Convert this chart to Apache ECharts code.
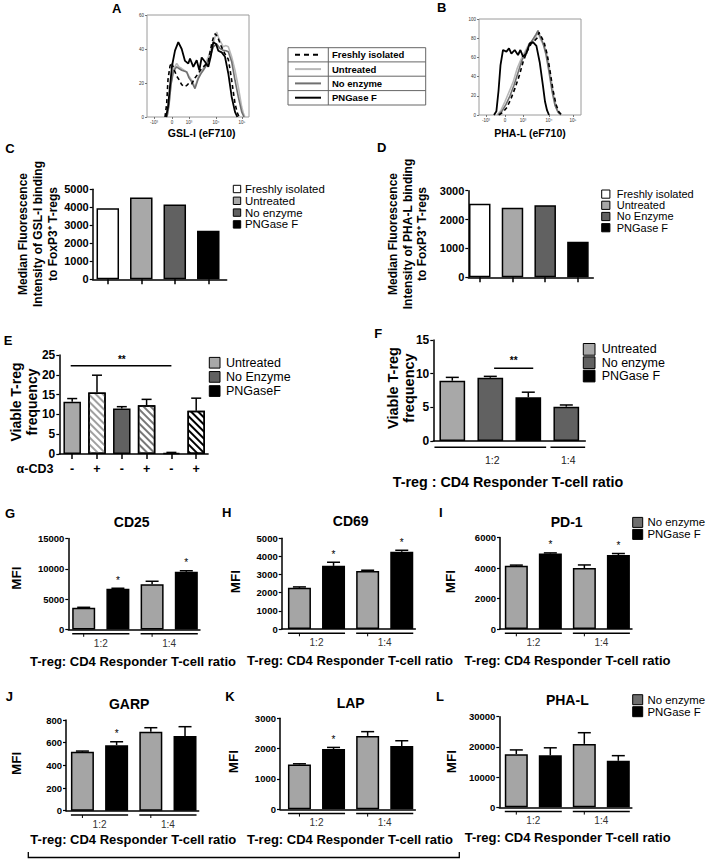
<!DOCTYPE html>
<html>
<head>
<meta charset="utf-8">
<title>Figure</title>
<script src="https://cdn.jsdelivr.net/npm/echarts@6.0.0/dist/echarts.min.js"></script>
<style>
html,body{margin:0;padding:0;background:#fff;}
#chart{width:708px;height:864px;}
</style>
</head>
<body>
<div id="chart"></div>
<script>
// ======================= DATA =======================
// Panels A & B: flow histograms (x = position on the biexponential display axis, y = % of max)
const histTickLabels = ['-10³', '0', '10³', '10⁴', '10⁵'];
const histTickPosA = [7, 25, 42, 69, 95];
const histTickPosB = [7, 26, 44, 70, 94];
const histNames = ['Freshly isolated', 'Untreated', 'No enzyme', 'PNGase F'];

const gslFresh = [[18,0],[19.7,8],[21,22],[23,30],[24.7,32],[27,28],[29.7,24],[32,22],[34.7,19],[37,18],[39.7,18.5],[42,20],[44.7,19.5],[48,23],[51.3,25.6],[54,28],[56.3,29.5],[59,31],[61.3,33],[63,38],[64.7,43],[66.5,47],[68,49],[69.5,48],[71.3,46],[74,42],[76.3,39],[79,36],[81.3,34],[83,28],[84.7,21.6],[86.5,14],[88,8],[90,3],[91.3,1],[92.5,0]];
const gslUntreated = [[20,0],[22,8],[24,20],[26.5,28],[29.7,31.5],[32,29.5],[34.7,28.5],[37,27.5],[39.7,26.5],[42,24],[44.7,21.6],[48,17.7],[51.3,23.6],[54,26.5],[56.3,28.5],[59,32],[61.3,35.4],[64,40],[66.3,43],[68,47],[69.7,50],[71.3,47],[73,45],[76.3,41.3],[79,42],[81.3,41.3],[84.7,35.4],[88,27.5],[91.3,17.7],[94.7,6],[96.5,2],[98,0]];
const gslNoEnzyme = [[20,0],[22,7],[24,19],[26.5,27],[29.7,29.5],[32,28.5],[34.7,27.5],[37,27],[39.7,26.5],[42,23],[44.7,20.7],[48,16.7],[51.3,22.6],[54,25.5],[56.3,27.5],[59,30],[61.3,32.5],[64,37],[66.3,41.3],[69.7,43],[73,40.3],[76.3,39.3],[79,39],[81.3,38.4],[84.7,32.5],[88,21.6],[91.3,11.8],[94.7,3],[97,0]];
const gslPNGase = [[19,0],[21,6],[23,18],[25,30],[28,39],[31.3,44],[34.7,40],[38,33],[41.3,31.5],[43,34.4],[46.3,29.5],[49.7,33.4],[52.3,27.5],[54.7,35],[58,32.5],[61.3,29.5],[63.7,35.4],[66.3,44],[69,43],[71.3,39],[74.7,38],[78,35.4],[81.3,25.6],[84.7,11.8],[88,3],[90.3,0]];

const phaFresh = [[20,0],[24,3],[28,8],[32,17],[36,28],[40,40],[44,55],[48,66],[52,74],[55,77],[58,80],[60,86],[62,82],[65,76],[68,64],[71,46],[74,26],[77,11],[80,3],[83,0]];
const phaUntreated = [[18,0],[22,5],[26,14],[30,24],[34,34],[38,48],[42,58],[46,66],[50,74],[54,78],[57,82],[59,86],[61,80],[63,76],[66,70],[69,58],[72,38],[75,18],[78,6],[81,0]];
const phaNoEnzyme = [[19,0],[23,4],[27,11],[31,20],[35,31],[39,44],[43,57],[47,66],[51,74],[54,79],[57,84],[59,88],[61,82],[64,75],[67,63],[70,45],[73,25],[76,10],[79,3],[82,0]];
const phaPNGase = [[15,0],[17.4,4],[19.5,25],[21.5,52],[24,67.7],[27.4,66],[30,69.4],[32.4,64],[35.7,67.7],[39,62.5],[41.4,67.7],[44,60.8],[47.4,64],[50.7,74.7],[54,76],[57.4,72],[60.7,55],[64,30],[66,14],[68,5],[70,0]];

// Panel C
const cCategories = ['Freshly isolated', 'Untreated', 'No enzyme', 'PNGase F'];
const cValues = [3950, 4550, 4150, 2700];
// Panel D
const dCategories = ['Freshly isolated', 'Untreated', 'No Enzyme', 'PNGase F'];
const dValues = [2550, 2410, 2500, 1230];
// Panel E
const eLegend = ['Untreated', 'No Enzyme', 'PNGaseF'];
const eAntiCD3 = ['-', '+', '-', '+', '-', '+'];
const eValues = [13.2, 15.5, 11.5, 12.3, 0.3, 10.9];
const eErrors = [0.8, 4.4, 0.45, 1.5, 0.1, 3.2];
const eSignif = {from: 1, to: 5, level: 22.3, label: '**'};
// Panel F
const fLegend = ['Untreated', 'No enzyme', 'PNGase F'];
const fGroupOf = [0, 1, 2, 1];
const fValues = [8.95, 9.4, 6.5, 5.1];
const fErrors = [0.5, 0.2, 0.75, 0.25];
const fSignif = {from: 2.1, to: 3.13, level: 10.8, label: '**'};
const ratioLabels = ['1:2', '1:4'];
const ratioTitleF = 'T-reg : CD4 Responder T-cell ratio';
const ratioTitle = 'T-reg: CD4 Responder T-cell ratio';
// Panels G-L (No enzyme, PNGase F at 1:2 then 1:4)
const mfiLegend = ['No enzyme', 'PNGase F'];
const gValues = [3600, 6700, 7450, 9500]; const gErrors = [60, 100, 500, 180]; const gStars = [1, 3];
const hValues = [2270, 3480, 3200, 4260]; const hErrors = [50, 200, 40, 80]; const hStars = [1, 3];
const iValues = [4150, 4950, 4000, 4850]; const iErrors = [40, 40, 200, 100]; const iStars = [1, 3];
const jValues = [520, 578, 696, 658]; const jErrors = [6, 30, 36, 83]; const jStars = [1];
const kValues = [1480, 1990, 2420, 2090]; const kErrors = [20, 50, 140, 170]; const kStars = [1];
const lValues = [17600, 17200, 21000, 15400]; const lErrors = [1400, 2500, 3700, 1700]; const lStars = [];

// ======================= STYLE =======================
const FONT = "'Liberation Sans', Arial, Helvetica, sans-serif";
const WHITE = '#ffffff', LIGHT = '#a8a8a8', DARK = '#616161', BLACK = '#000000';
const MFI_GRAY = '#a5a5a5', MFI_LEG_GRAY = '#6e6e6e';

const chart = echarts.init(document.getElementById('chart'), null, {renderer: 'svg', width: 708, height: 864});

const grids = [], xAxes = [], yAxes = [], series = [];

function addGrid(g) { grids.push(Object.assign({containLabel: false}, g)); return grids.length - 1; }

function histPanel(rect, ticks, yMax, curves) {
  const gi = addGrid(Object.assign({show: true, borderColor: '#9a9a9a', borderWidth: 1}, rect));
  xAxes.push({gridIndex: gi, type: 'value', min: 0, max: 102, splitLine: {show: false},
    axisLine: {show: false},
    axisTick: {show: true, customValues: ticks, length: 2, lineStyle: {color: '#555', width: 0.8}},
    axisLabel: {show: true, customValues: ticks, formatter: v => histTickLabels[ticks.indexOf(v)],
      fontSize: 4.5, color: '#333', margin: 3, fontFamily: FONT}});
  yAxes.push({gridIndex: gi, type: 'value', min: 0, max: yMax, interval: 20, splitLine: {show: false},
    axisLine: {show: false},
    axisTick: {show: true, length: 2, lineStyle: {color: '#555', width: 0.8}},
    axisLabel: {fontSize: 4.5, color: '#333', margin: 3, fontFamily: FONT, formatter: v => String(v)}});
  curves.forEach(c => series.push({type: 'line', name: c.name, xAxisIndex: gi, yAxisIndex: gi, data: c.data,
    showSymbol: false, symbol: 'none', silent: true, animation: false, z: c.z,
    lineStyle: {color: c.color, width: c.width, type: c.type || 'solid'}}));
  return gi;
}

function makeErrRender(capHalf) {
  return function (params, api) {
    const x = api.value(0), v = api.value(1), e = api.value(2);
    const p0 = api.coord([x, v]), p1 = api.coord([x, v + e]);
    return {type: 'group', children: [
      {type: 'line', shape: {x1: p0[0], y1: p0[1], x2: p1[0], y2: p1[1]}, style: {stroke: '#000', lineWidth: 1.5}},
      {type: 'line', shape: {x1: p1[0] - capHalf, y1: p1[1], x2: p1[0] + capHalf, y2: p1[1]}, style: {stroke: '#000', lineWidth: 1.5}}
    ]};
  };
}

function barPanel(p) {
  const gi = addGrid({left: p.left, top: p.top, width: p.width, height: p.height});
  xAxes.push({gridIndex: gi, type: 'value', min: p.xMin, max: p.xMax, splitLine: {show: false},
    axisLine: {show: true, onZero: true, lineStyle: {color: '#000', width: 1.5}},
    axisTick: p.ticks ? {show: true, customValues: p.ticks, length: 5, lineStyle: {color: '#000', width: 1.5}} : {show: false},
    axisLabel: {show: false}});
  yAxes.push({gridIndex: gi, type: 'value', min: 0, max: p.yMax, interval: p.interval, splitLine: {show: false},
    axisLine: {show: true, lineStyle: {color: '#000', width: 1.5}},
    axisTick: {show: true, length: p.tickLen || 3, lineStyle: {color: '#000', width: 1.2}},
    axisLabel: {show: true, fontSize: p.labelSize, fontWeight: 'bold', color: '#000', margin: p.labelMargin || 4,
      fontFamily: FONT, formatter: v => String(v)}});
  const xs = p.values.map((v, i) => i + 1);
  const plain = [];
  p.values.forEach((v, i) => { if (!p.hatch || !p.hatch[i]) plain.push({value: [xs[i], v], itemStyle: {color: p.colors[i]}}); });
  series.push({type: 'bar', xAxisIndex: gi, yAxisIndex: gi, barWidth: p.barWidth, barGap: '-100%', data: plain,
    itemStyle: {borderColor: '#000', borderWidth: 1.5}, silent: true, animation: false});
  if (p.hatch) p.values.forEach((v, i) => {
    if (!p.hatch[i]) return;
    series.push({type: 'bar', xAxisIndex: gi, yAxisIndex: gi, barWidth: p.barWidth, barGap: '-100%',
      data: [{value: [xs[i], v]}], silent: true, animation: false,
      itemStyle: {color: '#fff', borderColor: '#000', borderWidth: 1.5,
        decal: {symbol: 'rect', symbolSize: 1, color: p.hatch[i], dashArrayX: [1, 0], dashArrayY: [2, 2.4], rotation: Math.PI / 4}}});
  });
  if (p.errors) series.push({type: 'custom', xAxisIndex: gi, yAxisIndex: gi, silent: true, animation: false,
    data: p.values.map((v, i) => [xs[i], v, p.errors[i]]), renderItem: makeErrRender(p.capHalf)});
  return gi;
}

// ---------- build panels ----------
const giA = histPanel({left: 147, top: 15, width: 102, height: 102}, histTickPosA, 60, [
  {name: histNames[1], data: gslUntreated, color: '#b9b9b9', width: 1.6, z: 2},
  {name: histNames[2], data: gslNoEnzyme, color: '#707070', width: 1.6, z: 3},
  {name: histNames[0], data: gslFresh, color: '#000', width: 1.6, type: [4, 3], z: 4},
  {name: histNames[3], data: gslPNGase, color: '#000', width: 1.8, z: 5}]);
const giB = histPanel({left: 479, top: 19, width: 102, height: 96}, histTickPosB, 100, [
  {name: histNames[1], data: phaUntreated, color: '#b9b9b9', width: 1.6, z: 2},
  {name: histNames[2], data: phaNoEnzyme, color: '#707070', width: 1.6, z: 3},
  {name: histNames[0], data: phaFresh, color: '#000', width: 1.6, type: [4, 3], z: 4},
  {name: histNames[3], data: phaPNGase, color: '#000', width: 1.8, z: 5}]);

const giC = barPanel({left: 92.7, top: 189.3, width: 134, height: 90, xMin: 0.55, xMax: 4.55, yMax: 5000, interval: 1000,
  values: cValues, colors: [WHITE, LIGHT, DARK, BLACK], barWidth: 22.5, labelSize: 11, ticks: [1, 2, 3, 4]});
const giD = barPanel({left: 468.3, top: 190.7, width: 125, height: 86.6, xMin: 0.65, xMax: 4.47, yMax: 3000, interval: 1000,
  values: dValues, colors: [WHITE, LIGHT, DARK, BLACK], barWidth: 21.5, labelSize: 11, ticks: [1, 2, 3, 4]});
const giE = barPanel({left: 59.3, top: 355, width: 148.8, height: 99, xMin: 0.48, xMax: 6.48, yMax: 25, interval: 5,
  values: eValues, errors: eErrors, colors: [LIGHT, '#fff', DARK, '#fff', BLACK, '#fff'],
  hatch: [null, '#a0a0a0', null, '#787878', null, '#000'], barWidth: 17.5, capHalf: 5, labelSize: 12, ticks: [1, 2, 3, 4, 5, 6]});
const giF = barPanel({left: 433.3, top: 340, width: 152, height: 101, xMin: 0.5, xMax: 4.5, yMax: 15, interval: 5,
  values: fValues, errors: fErrors, colors: fGroupOf.map(g => [LIGHT, DARK, BLACK][g]), barWidth: 25.7, capHalf: 6.5, labelSize: 12});

const mfiCols = [MFI_GRAY, BLACK, MFI_GRAY, BLACK];
const mfiPanels = [
  {key: 'G', left: 68.3, top: 538.5, width: 131.7, height: 91, xMin: 0.55, xMax: 4.4, yMax: 15000, interval: 5000, values: gValues, errors: gErrors, stars: gStars},
  {key: 'H', left: 281.7, top: 538.3, width: 133.7, height: 90.7, xMin: 0.48, xMax: 4.4, yMax: 5000, interval: 1000, values: hValues, errors: hErrors, stars: hStars},
  {key: 'I', left: 500, top: 537.5, width: 132, height: 91.5, xMin: 0.52, xMax: 4.4, yMax: 6000, interval: 2000, values: iValues, errors: iErrors, stars: iStars},
  {key: 'J', left: 66, top: 720, width: 132.7, height: 90.7, xMin: 0.52, xMax: 4.4, yMax: 800, interval: 200, values: jValues, errors: jErrors, stars: jStars},
  {key: 'K', left: 280, top: 718.3, width: 135.4, height: 91, xMin: 0.43, xMax: 4.4, yMax: 3000, interval: 1000, values: kValues, errors: kErrors, stars: kStars},
  {key: 'L', left: 499.3, top: 716.7, width: 132.6, height: 90.6, xMin: 0.5, xMax: 4.4, yMax: 30000, interval: 10000, values: lValues, errors: lErrors, stars: lStars}
];
mfiPanels.forEach(p => {
  p.gi = barPanel(Object.assign({colors: mfiCols, barWidth: 23, capHalf: 6.5, labelSize: 9.5}, p));
});

chart.setOption({
  animation: false,
  backgroundColor: '#fff',
  textStyle: {fontFamily: FONT},
  grid: grids, xAxis: xAxes, yAxis: yAxes, series: series
});

// ======================= ANNOTATIONS =======================
const G = [];
function txt(x, y, text, o) {
  o = o || {};
  const style = {text: text, fontFamily: FONT, fontSize: o.size || 12, fontWeight: o.bold ? 'bold' : 'normal',
    fill: o.color || '#000', align: o.align || 'center', verticalAlign: 'middle'};
  if (o.lh) style.lineHeight = o.lh;
  G.push({type: 'text', x: x, y: y, rotation: o.rot || 0, silent: true, z: 100, style: style});
}
function line(x1, y1, x2, y2, o) {
  o = o || {};
  const style = {stroke: o.color || '#000', lineWidth: o.w || 1.5};
  if (o.dash) style.lineDash = o.dash;
  G.push({type: 'line', silent: true, z: 100, shape: {x1, y1, x2, y2}, style: style});
}
function box(x, y, w, h, fill, o) {
  o = o || {};
  G.push({type: 'rect', silent: true, z: 100, shape: {x, y, width: w, height: h},
    style: {fill: fill, stroke: o.stroke || '#000', lineWidth: o.w || 1}});
}
function px(gi, x, y) { return chart.convertToPixel({gridIndex: gi}, [x, y]); }

// Panel letters
[['A', 116.7, 8.5], ['B', 441.7, 7.5], ['C', 10, 148], ['D', 381.7, 147.5], ['E', 8, 340], ['F', 378.3, 333.3],
 ['G', 10, 513.3], ['H', 226.7, 512.7], ['I', 440.7, 512.7], ['J', 9.3, 696], ['K', 230, 696.7], ['L', 440, 696.7]]
  .forEach(a => txt(a[1], a[2], a[0], {bold: true, size: 13}));

// A/B axis titles
txt(201.7, 133.3, 'GSL-I (eF710)', {bold: true, size: 10.5});
txt(530, 133.3, 'PHA-L (eF710)', {bold: true, size: 10.5});

// A/B shared legend table
box(288, 47.7, 137.7, 57.3, 'transparent', {stroke: '#666', w: 1});
line(328.3, 47.7, 328.3, 105, {color: '#666', w: 1});
[61.9, 76.2, 90.6].forEach(y => line(288, y, 425.7, y, {color: '#666', w: 1}));
const abLegStyle = [{color: '#000', dash: [5, 4]}, {color: '#b9b9b9'}, {color: '#707070'}, {color: '#000'}];
histNames.forEach((n, i) => {
  const y = 54.8 + i * 14.3;
  line(295, y, 321, y, {color: abLegStyle[i].color, w: 2, dash: abLegStyle[i].dash});
  txt(332, y, n, {bold: true, size: 9.5, align: 'left', lh: 11});
});

// C & D y-axis titles and legends
txt(38, 234, 'Median Fluorescence\nIntensity of GSL-I binding\nto FoxP3⁺ T-regs', {bold: true, size: 12, rot: Math.PI / 2, lh: 14.7});
txt(407.5, 234, 'Median Fluorescence\nIntensity of PHA-L binding\nto FoxP3⁺ T-regs', {bold: true, size: 12, rot: Math.PI / 2, lh: 14.2});
const cdCols = [WHITE, LIGHT, DARK, BLACK];
cCategories.forEach((n, i) => { const y = 189 + i * 11.8; box(233.3, y - 3.7, 7.4, 7.4, cdCols[i]); txt(245, y, n, {size: 11.4, align: 'left', lh: 11}); });
dCategories.forEach((n, i) => { const y = 194 + i * 11.2; box(601.7, y - 4, 8.2, 8.2, cdCols[i]); txt(616.7, y, n, {size: 11, align: 'left', lh: 10.5}); });

// E
txt(24, 402, 'Viable T-reg\nfrequency', {bold: true, size: 14, rot: Math.PI / 2, lh: 15.7});
eLegend.forEach((n, i) => { const y = 362.7 + i * 14.15; box(209.3, y - 5.3, 10.7, 10.7, [LIGHT, DARK, BLACK][i]); txt(226, y, n, {size: 12.5, align: 'left', lh: 13}); });
txt(35, 469, 'α-CD3', {bold: true, size: 12.5});
eAntiCD3.forEach((s, i) => { const p = px(giE, i + 1, 0); txt(p[0], 469, s, {bold: true, size: 12.5}); });
(function () {
  const a = px(giE, eSignif.from, eSignif.level), b = px(giE, eSignif.to, eSignif.level);
  line(a[0] - 1.5, a[1], b[0], b[1]);
  txt((a[0] + b[0]) / 2, a[1] - 6.5, eSignif.label, {bold: true, size: 10});
})();

// F
txt(401.3, 388, 'Viable T-reg\nfrequency', {bold: true, size: 14.5, rot: Math.PI / 2, lh: 16});
fLegend.forEach((n, i) => { const y = 349.3 + i * 13.35; box(583.3, y - 5.8, 11.7, 11.7, [LIGHT, DARK, BLACK][i]); txt(601.7, y, n, {size: 12.5, align: 'left', lh: 12.5}); });
(function () {
  const a = px(giF, fSignif.from, fSignif.level), b = px(giF, fSignif.to, fSignif.level);
  line(a[0], a[1], b[0], b[1]);
  txt((a[0] + b[0]) / 2, a[1] - 7.5, fSignif.label, {bold: true, size: 10});
  const bw = 25.7, y0 = px(giF, 1, 0)[1], yb = y0 + 6.3;
  const x1 = px(giF, 1, 0)[0], x3 = px(giF, 3, 0)[0], x4 = px(giF, 4, 0)[0];
  line(x1 - bw / 2 - 5, yb, x3 + bw / 2 + 5, yb);
  line(x4 - bw / 2 - 3, yb, x4 + bw / 2 + 6, yb);
  txt((x1 + x3) / 2 + 2, yb + 12.7, ratioLabels[0], {size: 10.5, color: '#222'});
  txt(x4 + 2, yb + 12.7, ratioLabels[1], {size: 10.5, color: '#222'});
  txt(508, 482, ratioTitleF, {bold: true, size: 14.3});
})();

// G-L
const mfiText = {
  G: {title: 'CD25', tx: 131.7, ty: 521.7, mx: 16.7, my: 578, rx: 133, ry: 661},
  H: {title: 'CD69', tx: 350.7, ty: 520.7, mx: 235, my: 581.7, rx: 350, ry: 660},
  I: {title: 'PD-1', tx: 566.7, ty: 521.7, mx: 450, my: 581.7, rx: 567.5, ry: 660.7, legend: 522.4},
  J: {title: 'GARP', tx: 129.2, ty: 704, mx: 16.7, my: 763.3, rx: 133.3, ry: 839.3},
  K: {title: 'LAP', tx: 350.7, ty: 702.7, mx: 233.3, my: 761.7, rx: 350, ry: 839.3},
  L: {title: 'PHA-L', tx: 567.3, ty: 700, mx: 451.7, my: 761.7, rx: 567.7, ry: 837.7, legend: 699.7}
};
mfiPanels.forEach(p => {
  const t = mfiText[p.key], gi = p.gi, bw = 23;
  txt(t.tx, t.ty, t.title, {bold: true, size: 14});
  txt(t.mx, t.my, 'MFI', {bold: true, size: 13.5, rot: Math.PI / 2});
  txt(t.rx, t.ry, ratioTitle, {bold: true, size: 13});
  const y0 = px(gi, 1, 0)[1], yb = y0 + 4.3;
  [[1, 2], [3, 4]].forEach((pair, k) => {
    const xa = px(gi, pair[0], 0)[0], xb = px(gi, pair[1], 0)[0];
    line(xa - bw / 2, yb, xb + bw / 2, yb);
    line(xa, yb, xa, yb + 3, {w: 1});
    txt((xa + xb) / 2, yb + 9.3, ratioLabels[k], {size: 10, color: '#333'});
  });
  p.stars.forEach(i => {
    const q = px(gi, i + 1, p.values[i] + p.errors[i]);
    txt(q[0], q[1] - 8, '*', {size: 10});
  });
  if (t.legend) {
    mfiLegend.forEach((n, i) => {
      const y = t.legend + i * 12;
      box(632.7, y - 5, 10, 10, [MFI_LEG_GRAY, BLACK][i]);
      txt(647.5, y, n, {size: 11.4, align: 'left', lh: 11});
    });
  }
});

// bottom bracket under J and K
G.push({type: 'polyline', silent: true, z: 100, shape: {points: [[28.3, 852], [28.3, 857.5], [459.3, 857.5], [459.3, 852]]},
  style: {stroke: '#000', lineWidth: 1.3, fill: 'transparent'}});

chart.setOption({graphic: {elements: G}});
</script>
</body>
</html>
